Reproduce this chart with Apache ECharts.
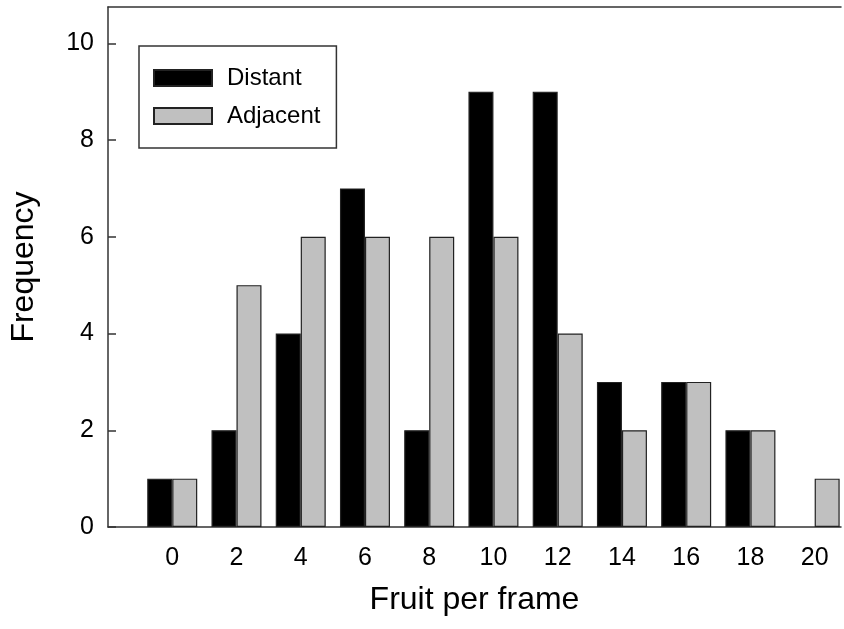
<!DOCTYPE html>
<html>
<head>
<meta charset="utf-8">
<script src="https://cdn.jsdelivr.net/npm/echarts@6/dist/echarts.min.js"></script>
<style>html,body{margin:0;padding:0;background:#fff;}#c{width:844px;height:629px;}</style>
</head>
<body>
<div id="c"></div>
<script>
var fruitPerFrame = [0, 2, 4, 6, 8, 10, 12, 14, 16, 18, 20];
var distant = [1, 2, 4, 7, 2, 9, 9, 3, 3, 2, 0];
var adjacent = [1, 5, 6, 6, 6, 6, 4, 2, 3, 2, 1];
var yTicks = [0, 2, 4, 6, 8, 10];

var font = 'Liberation Sans, Arial, Helvetica, sans-serif';
var chart = echarts.init(document.getElementById('c'));
function pairs(vals) { return fruitPerFrame.map(function (x, i) { return [x, vals[i]]; }); }
var lineStyle = { color: '#333', width: 1.5 };
chart.setOption({
  animation: false,
  grid: { left: 108, right: 0, top: 7, bottom: 102 },
  legend: {
    orient: 'vertical', left: 139, top: 46,
    padding: [20, 16, 20, 14],
    itemWidth: 58, itemHeight: 16, itemGap: 14,
    borderColor: '#333', borderWidth: 1.5, backgroundColor: '#fff',
    textStyle: { fontFamily: font, fontSize: 24, color: '#000', padding: [0, 0, 0, 10] },
    data: [{ name: 'Distant', icon: 'rect' }, { name: 'Adjacent', icon: 'rect' }]
  },
  xAxis: [{
    type: 'value', min: -2, max: 20.82, interval: 1,
    name: 'Fruit per frame', nameLocation: 'middle', nameGap: 57,
    nameTextStyle: { fontFamily: font, fontSize: 32, color: '#000' },
    axisLine: { show: true, onZero: false, lineStyle: lineStyle },
    axisTick: { show: false },
    splitLine: { show: false },
    axisLabel: {
      fontFamily: font, fontSize: 25, color: '#000', margin: 19,
      formatter: function (v) { return fruitPerFrame.indexOf(v) >= 0 ? String(v) : ''; }
    }
  }, {
    type: 'value', position: 'top', min: -2, max: 20.82,
    axisLine: { show: true, onZero: false, lineStyle: lineStyle },
    axisTick: { show: false }, axisLabel: { show: false }, splitLine: { show: false }
  }],
  yAxis: {
    type: 'value', min: 0, max: 10.75, interval: 2,
    name: 'Frequency', nameLocation: 'middle', nameGap: 68,
    nameTextStyle: { fontFamily: font, fontSize: 32, color: '#000' },
    axisLine: { show: true, onZero: false, lineStyle: lineStyle },
    axisTick: { show: true, inside: true, length: 8, lineStyle: lineStyle },
    splitLine: { show: false },
    axisLabel: {
      fontFamily: font, fontSize: 25, color: '#000', margin: 14,
      showMaxLabel: false,
      formatter: function (v) { return yTicks.indexOf(v) >= 0 ? String(v) : ''; }
    }
  },
  series: [
    {
      name: 'Distant', type: 'bar', barWidth: 25, barGap: '0%',
      itemStyle: { color: '#000', borderColor: '#222', borderWidth: 1.2 },
      data: pairs(distant).filter(function (p) { return p[1] > 0; })
    },
    {
      name: 'Adjacent', type: 'bar', barWidth: 25, barGap: '0%',
      itemStyle: { color: '#c0c0c0', borderColor: '#222', borderWidth: 1.2 },
      data: pairs(adjacent)
    }
  ]
});
</script>
</body>
</html>
